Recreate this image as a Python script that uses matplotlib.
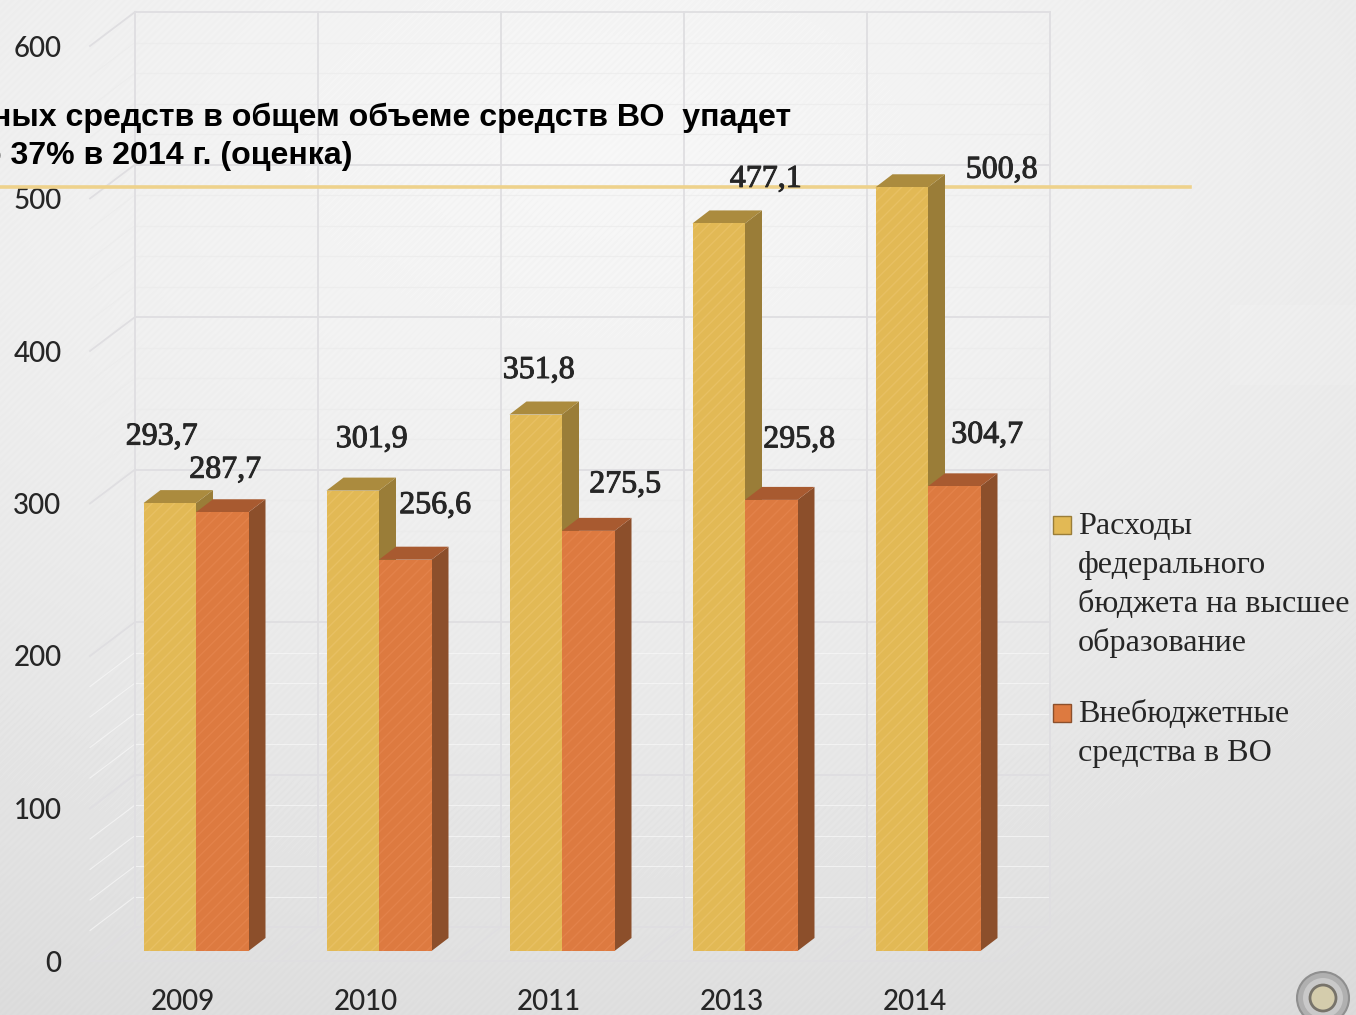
"""Grouped pseudo-3D bars: higher education funding, 2009-2014."""

import matplotlib

matplotlib.use("Agg")
import matplotlib.patheffects as pe
import matplotlib.pyplot as plt
import numpy as np
from matplotlib.patches import Circle, Polygon, Rectangle

YEARS = ["2009", "2010", "2011", "2013", "2014"]
FEDERAL = [293.7, 301.9, 351.8, 477.1, 500.8]
EXTRA_BUDGET = [287.7, 256.6, 275.5, 295.8, 304.7]
FEDERAL_LABEL_OFFSETS = [(-8, 66), (19, 51), (3, 44), (47, 44), (100, 17)]
EXTRA_LABEL_OFFSETS = [(3, 42), (30, 54), (37, 46), (28, 60), (33, 51)]
Y_TICKS = [0, 100, 200, 300, 400, 500, 600]

W, H = 1356, 1015
PX_PER_UNIT = 1.525
CAT_PX = 183.0
BAR_W = 52.5 / CAT_PX
DEPTH_X, DEPTH_Y = 17 / CAT_PX, 13 / PX_PER_UNIT
WALL_X, WALL_Y = 45 / CAT_PX, 34 / PX_PER_UNIT
FRONT_DROP = 10 / PX_PER_UNIT  # front plane sits below the bar bases
BACK_LIFT = 24 / PX_PER_UNIT
X_LEFT = (90 - 196) / CAT_PX
X_RIGHT = (1050 - 196) / CAT_PX

TEXT_COLOR = "#262626"
MAJOR_GRID = "#dfdee1"
YELLOW = ("#e2b955", "#9a7d38", "#ab8b3e", "#e8c063")
ORANGE = ("#dd7a40", "#8c4f2b", "#a85a30", "#e3824a")

plt.rcParams["hatch.linewidth"] = 1.0

fig = plt.figure(figsize=(W / 100, H / 100), dpi=100)

# background sheet
bg = fig.add_axes([0, 0, 1, 1], zorder=0)
yy, xx = np.mgrid[0:H, 0:W]
dist = np.hypot((xx - 600) / 1300, (yy - 150) / 800)
shade = 0.965 - 0.085 * dist**1.3 + 0.005 * np.sin((xx + yy) * 0.9)
shade[305:385, 1230:] += 0.006
bg.imshow(np.clip(shade, 0, 1), cmap="gray", vmin=0, vmax=1, extent=(0, W, H, 0), aspect="auto")
bg.set_xlim(0, W)
bg.set_ylim(H, 0)
bg.axis("off")

# rivet in the corner
bg.add_patch(Circle((1323, 998), 26, fc="#b0b0b0", ec="#8f8f8f", lw=1.5))
bg.add_patch(Circle((1323, 998), 20, fc="#c9c9c9", ec="none"))
bg.add_patch(Circle((1323, 998), 13, fc="#d4ccac", ec="#77736a", lw=2))

ax = fig.add_axes(
    [90 / W, (H - 961) / H, (1050 - 90) / W, (961 - 12) / H],
    zorder=1,
)
ax.patch.set_visible(False)
ax.set_xlim(X_LEFT, X_RIGHT)
ax.set_ylim(-FRONT_DROP, 939 / PX_PER_UNIT)
for spine in ax.spines.values():
    spine.set_visible(False)

# walls and floor
for v in np.arange(0, 601, 20):
    major = v % 100 == 0
    color = MAJOR_GRID if major else ("#f8f8f8" if v < 200 else "#ebebeb")
    lw = 1.3 if major else 0.8
    alpha = 1.0 if major else 0.7
    y_back = v + BACK_LIFT
    y_front = v - FRONT_DROP
    ax.plot([X_LEFT + WALL_X, X_RIGHT], [y_back, y_back], color=color, lw=lw, alpha=alpha, zorder=1, clip_on=False)
    ax.plot([X_LEFT, X_LEFT + WALL_X], [y_front, y_back], color=color, lw=lw, alpha=alpha, zorder=1, clip_on=False)
for k in range(6):
    x_back = X_LEFT + WALL_X + k
    ax.plot([x_back, x_back], [BACK_LIFT, 600 + BACK_LIFT], color=MAJOR_GRID, lw=1.3, zorder=1, clip_on=False)
    ax.plot([x_back - WALL_X, x_back], [-FRONT_DROP, BACK_LIFT], color=MAJOR_GRID, lw=1.0, zorder=1, clip_on=False)
ax.plot([X_LEFT, X_RIGHT - WALL_X], [-FRONT_DROP, -FRONT_DROP], color=MAJOR_GRID, lw=1.3, zorder=1, clip_on=False)

# slide rule line passing behind the tallest bar
ax.plot(
    [-196 / CAT_PX, (1190 - 196) / CAT_PX],
    [FEDERAL[-1], FEDERAL[-1]],
    color="#eed28c",
    lw=2.6,
    zorder=2,
    clip_on=False,
)


def draw_bar(x_left, value, colors, z):
    """Draw one bar front with its side and top faces."""
    front, side, top, stripe = colors
    x_right = x_left + BAR_W
    ax.add_patch(Polygon(
        [(x_right, 0), (x_right + DEPTH_X, DEPTH_Y), (x_right + DEPTH_X, value + DEPTH_Y), (x_right, value)],
        fc=side, ec="none", zorder=z,
    ))
    ax.add_patch(Polygon(
        [(x_left, value), (x_left + DEPTH_X, value + DEPTH_Y), (x_right + DEPTH_X, value + DEPTH_Y), (x_right, value)],
        fc=top, ec="none", zorder=z,
    ))
    ax.bar(
        x_left, value, width=BAR_W, align="edge", facecolor=front,
        edgecolor=stripe, hatch="///", linewidth=0, zorder=z + 0.1,
    )


def draw_value_label(x_center, value, offset):
    """Write a value with a decimal comma, offset from the bar top."""
    ax.annotate(
        f"{value:.1f}".replace(".", ","),
        (x_center, value),
        xytext=offset,
        textcoords="offset pixels",
        ha="center",
        va="center",
        family="Liberation Serif",
        fontsize=23,
        color=TEXT_COLOR,
        path_effects=[pe.withStroke(linewidth=0.7, foreground=TEXT_COLOR)],
        zorder=10,
        annotation_clip=False,
    )


for i in range(len(YEARS)):
    draw_bar(i - BAR_W, FEDERAL[i], YELLOW, 3 + i)
    draw_bar(i, EXTRA_BUDGET[i], ORANGE, 3.5 + i)
    draw_value_label(i - BAR_W / 2, FEDERAL[i], FEDERAL_LABEL_OFFSETS[i])
    draw_value_label(i + BAR_W / 2, EXTRA_BUDGET[i], EXTRA_LABEL_OFFSETS[i])

ax.set_xticks(np.arange(len(YEARS)) - 13.5 / CAT_PX, YEARS)
ax.set_yticks(np.array(Y_TICKS) - FRONT_DROP, [str(t) for t in Y_TICKS])
ax.tick_params(axis="both", length=0, labelsize=20, labelcolor=TEXT_COLOR)
ax.tick_params(axis="x", pad=20)
ax.tick_params(axis="y", pad=20.5)
for label in ax.get_xticklabels() + ax.get_yticklabels():
    label.set_family("Lato")
    label.set_fontweight("medium")

# legend drawn by hand so each swatch sits on the first line of its entry
LEGEND_ENTRIES = [
    (YELLOW, 527, ["Расходы", "федерального", "бюджета на высшее", "образование"]),
    (ORANGE, 715, ["Внебюджетные", "средства в ВО"]),
]
for colors, y_first, lines in LEGEND_ENTRIES:
    bg.add_patch(Rectangle((1053, y_first - 11), 18, 18, fc=colors[0], ec=colors[1], lw=1.0, zorder=5))
    for n, line in enumerate(lines):
        fig.text(
            1078 / W,
            1 - (y_first + n * 38.7) / H,
            line,
            ha="left",
            va="center",
            family="Liberation Serif",
            fontsize=23.1,
            color=TEXT_COLOR,
            zorder=4,
        )

# heading runs off the left edge of the slide
fig.text(791 / W, 1 - 118 / H, "ных средств в общем объеме средств ВО  упадет", ha="right", va="center",
         family="Liberation Sans", fontweight="bold", fontsize=23.1, color="black", zorder=4)
fig.text(353 / W, 1 - 156 / H, "о 37% в 2014 г. (оценка)", ha="right", va="center",
         family="Liberation Sans", fontweight="bold", fontsize=23.1, color="black", zorder=4)

fig.savefig("out.png", dpi=100)
